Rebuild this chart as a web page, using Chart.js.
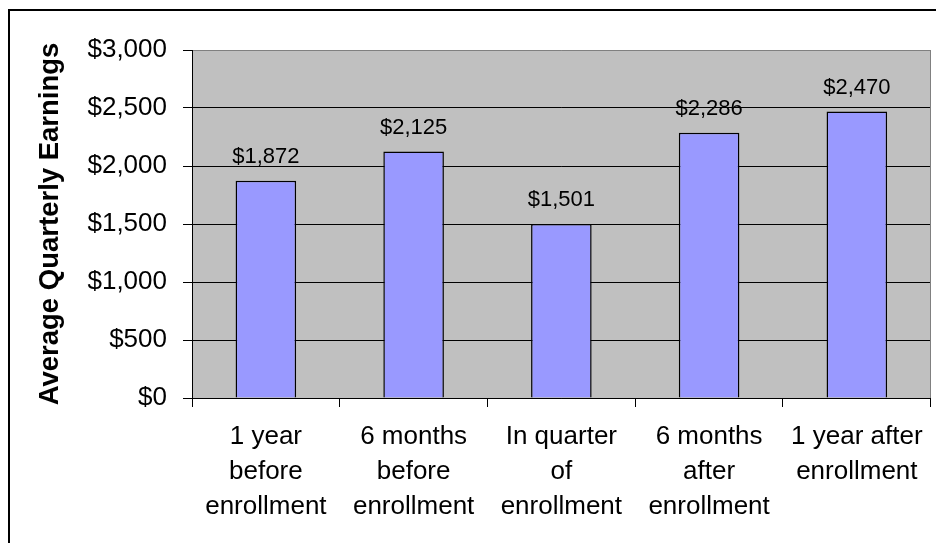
<!DOCTYPE html>
<html>
<head>
<meta charset="utf-8">
<script src="https://cdn.jsdelivr.net/npm/chart.js@4/dist/chart.umd.min.js"></script>
<style>
  html, body { margin: 0; padding: 0; background: #fff; }
  #wrap { width: 936px; height: 543px; position: relative; }
</style>
</head>
<body>
<div id="wrap"><canvas id="c" width="936" height="543"></canvas></div>
<script>
const categories = [
  ['1 year', 'before', 'enrollment'],
  ['6 months', 'before', 'enrollment'],
  ['In quarter', 'of', 'enrollment'],
  ['6 months', 'after', 'enrollment'],
  ['1 year after', 'enrollment']
];
const earnings = [1872, 2125, 1501, 2286, 2470];
const dataLabels = ['$1,872', '$2,125', '$1,501', '$2,286', '$2,470'];
const yTickLabels = ['$0', '$500', '$1,000', '$1,500', '$2,000', '$2,500', '$3,000'];
const yAxisTitle = 'Average Quarterly Earnings';

const FONT = "'Liberation Sans', Arial, sans-serif";

const decor = {
  id: 'decor',
  beforeDraw(chart) {
    const ctx = chart.ctx;
    const a = chart.chartArea;
    ctx.save();
    ctx.fillStyle = '#ffffff';
    ctx.fillRect(0, 0, chart.width, chart.height);
    ctx.fillStyle = '#C0C0C0';
    ctx.fillRect(a.left, a.top, a.right - a.left, a.bottom - a.top);
    ctx.strokeStyle = '#000';
    ctx.lineWidth = 2;
    ctx.strokeRect(9, 10, 1200, 1200);
    ctx.restore();
  },
  beforeDatasetsDraw(chart) {
    const ctx = chart.ctx;
    const a = chart.chartArea;
    ctx.save();
    ctx.strokeStyle = '#808080';
    ctx.lineWidth = 1;
    ctx.beginPath();
    ctx.moveTo(Math.round(a.right) - 0.5, a.top);
    ctx.lineTo(Math.round(a.right) - 0.5, a.bottom);
    ctx.stroke();
    ctx.restore();
  },
  afterDatasetsDraw(chart) {
    const ctx = chart.ctx;
    const meta = chart.getDatasetMeta(0);
    ctx.save();
    ctx.font = '22px ' + FONT;
    ctx.fillStyle = '#000';
    ctx.textAlign = 'center';
    ctx.textBaseline = 'alphabetic';
    meta.data.forEach((bar, i) => {
      ctx.fillText(dataLabels[i], bar.x, bar.y - 17.5);
    });
    ctx.restore();
  }
};

new Chart(document.getElementById('c'), {
  type: 'bar',
  data: {
    labels: categories,
    datasets: [{
      data: earnings,
      backgroundColor: '#9999FF',
      borderColor: '#000000',
      borderWidth: 1.5,
      barPercentage: 0.41,
      categoryPercentage: 1.0
    }]
  },
  options: {
    responsive: false,
    animation: false,
    devicePixelRatio: 1,
    layout: { padding: { left: 0, top: 50, right: 4, bottom: 0 } },
    plugins: { legend: { display: false }, tooltip: { enabled: false } },
    scales: {
      x: {
        afterFit(scale) { scale.height = 145; },
        grid: {
          offset: true,
          drawOnChartArea: false,
          drawTicks: true,
          tickLength: 9,
          color: '#000',
          tickColor: '#000'
        },
        border: { display: true, color: '#000', width: 1 },
        ticks: {
          color: '#000',
          padding: 13,
          maxRotation: 0,
          minRotation: 0,
          autoSkip: false,
          font: { family: FONT, size: 26, lineHeight: 1.33 }
        }
      },
      y: {
        min: 0,
        max: 3000,
        afterFit(scale) { scale.width = 192; },
        grid: {
          color: (ctx) => (ctx.tick && ctx.tick.value === 3000) ? '#808080' : '#000',
          tickColor: '#000',
          tickLength: 9,
          lineWidth: 1
        },
        border: { display: true, color: '#000', width: 1 },
        ticks: {
          stepSize: 500,
          color: '#000',
          padding: 16,
          font: { family: FONT, size: 26 },
          callback: (v, i) => yTickLabels[i]
        },
        title: {
          display: true,
          text: yAxisTitle,
          color: '#000',
          padding: { top: 34, bottom: 0 },
          font: { family: FONT, size: 27.5, weight: 'bold', lineHeight: 1.2 }
        }
      }
    }
  },
  plugins: [decor]
});
</script>
</body>
</html>
